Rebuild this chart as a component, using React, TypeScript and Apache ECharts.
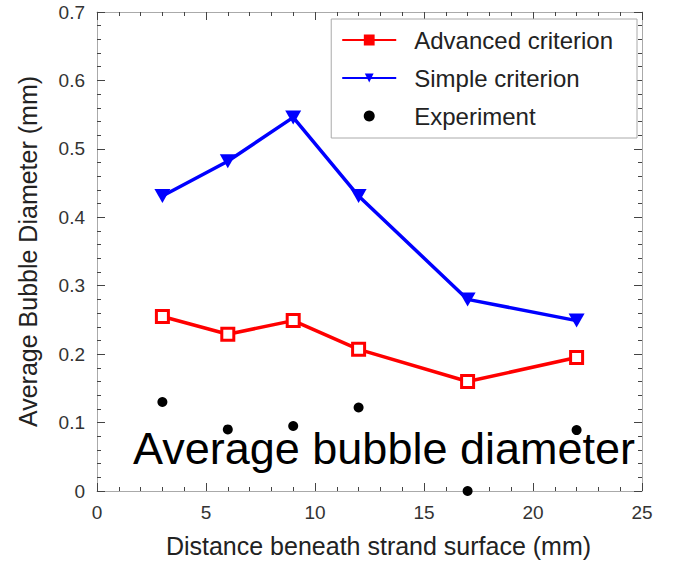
import React, { useEffect, useRef } from "react";
import * as echarts from "echarts";

const distances = [3, 6, 9, 12, 17, 22];
const advanced = [0.255, 0.229, 0.249, 0.207, 0.16, 0.195];
const simple = [0.431, 0.482, 0.546, 0.431, 0.28, 0.249];
const experiment = [0.13, 0.09, 0.095, 0.122, 0.0, 0.089];

const pairs = (ys: number[]) => distances.map((x, i) => [x, ys[i]]);

export default function App() {
  const ref = useRef<HTMLDivElement>(null);
  useEffect(() => {
    if (!ref.current) return;
    const chart = echarts.init(ref.current, null, { renderer: "svg" });
    const font = "Liberation Sans, Arial, sans-serif";
    const tickCol = "#444444";
    const mkX = (pos: string, extra: any) => ({
      type: "value",
      position: pos,
      min: 0,
      max: 25,
      interval: 5,
      splitLine: { show: false },
      axisLine: { show: true, onZero: false, lineStyle: { color: "#aaaaaa", width: 1 } },
      axisTick: { show: true, inside: true, length: 8, lineStyle: { color: tickCol, width: 1 } },
      minorTick: { show: true, splitNumber: 5, length: 4, lineStyle: { color: tickCol, width: 1 } },
      ...extra,
    });
    const mkY = (pos: string, extra: any) => ({
      type: "value",
      position: pos,
      min: 0,
      max: 0.7,
      interval: 0.1,
      splitLine: { show: false },
      axisLine: { show: true, onZero: false, lineStyle: { color: "#aaaaaa", width: 1 } },
      axisTick: { show: true, inside: true, length: 8, lineStyle: { color: tickCol, width: 1 } },
      minorTick: { show: true, splitNumber: 5, length: 4, lineStyle: { color: tickCol, width: 1 } },
      ...extra,
    });
    chart.setOption({
      animation: false,
      backgroundColor: "#ffffff",
      grid: { left: 97, top: 12, right: 35, bottom: 70 },
      legend: {
        right: 40,
        top: 19,
        orient: "vertical",
        backgroundColor: "#fff",
        borderColor: "#aaaaaa",
        borderWidth: 1,
        padding: [9, 24, 10, 10],
        itemGap: 14,
        itemWidth: 54,
        itemHeight: 11,
        textStyle: { fontFamily: font, fontSize: 24, color: "#222", padding: [0, 0, 0, 13] },
        data: [
          { name: "Advanced criterion", itemStyle: { color: "#ff0000", borderColor: "#ff0000" } },
          { name: "Simple criterion" },
          { name: "Experiment" },
        ],
      },
      xAxis: [
        mkX("bottom", {
          name: "Distance beneath strand surface (mm)",
          nameLocation: "middle",
          nameGap: 42,
          nameTextStyle: { fontFamily: font, fontSize: 25, color: "#222", padding: [0, 0, 0, 18] },
          axisLabel: { fontFamily: font, fontSize: 19, color: "#333", margin: 12 },
        }),
        mkX("top", { axisLabel: { show: false } }),
      ],
      yAxis: [
        mkY("left", {
          name: "Average Bubble Diameter (mm)",
          nameLocation: "middle",
          nameGap: 57,
          nameTextStyle: { fontFamily: font, fontSize: 25, color: "#222" },
          axisLabel: { fontFamily: font, fontSize: 19, color: "#333", margin: 12 },
        }),
        mkY("right", { axisLabel: { show: false } }),
      ],
      series: [
        {
          name: "Advanced criterion",
          type: "line",
          data: pairs(advanced),
          lineStyle: { color: "#ff0000", width: 3.5 },
          itemStyle: { color: "#ffffff", borderColor: "#ff0000", borderWidth: 3 },
          symbol: "rect",
          symbolSize: 12,
          clip: false,
          z: 3,
        },
        {
          name: "Simple criterion",
          type: "line",
          data: pairs(simple),
          lineStyle: { color: "#0000ff", width: 3.5 },
          itemStyle: { color: "#0000ff" },
          symbol: "path://M0,0 L10,0 L5,9 Z",
          symbolSize: [16, 14],
          clip: false,
          z: 3,
        },
        {
          name: "Experiment",
          type: "scatter",
          data: pairs(experiment),
          itemStyle: { color: "#000000", opacity: 1 },
          symbol: "circle",
          symbolSize: 10,
          clip: false,
          z: 4,
        },
      ],
      graphic: [
        {
          type: "text",
          left: 133,
          top: 426,
          z: 100,
          style: {
            text: "Average bubble diameter",
            fontFamily: font,
            fontSize: 45,
            fill: "#000000",
          },
        },
      ],
    });
    return () => chart.dispose();
  }, []);
  return <div ref={ref} style={{ width: 677, height: 563, position: "absolute", left: 0, top: 0 }} />;
}
